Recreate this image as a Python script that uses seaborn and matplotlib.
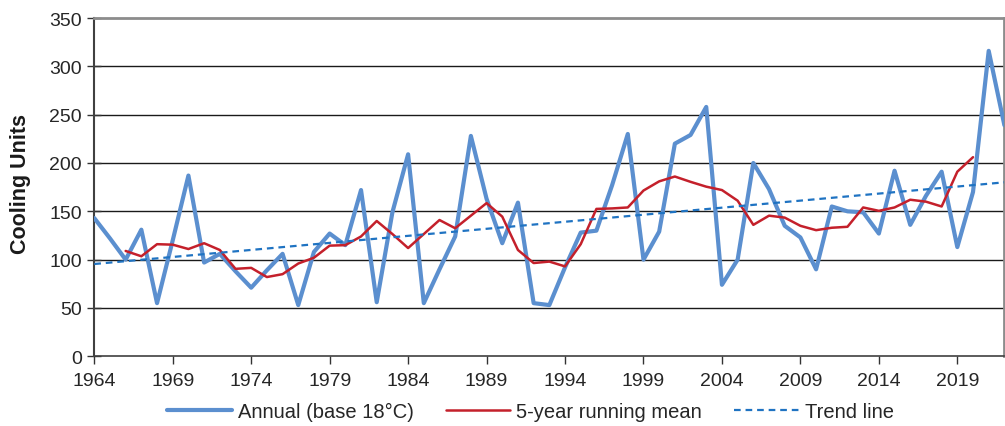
import numpy as np
import pandas as pd
import matplotlib
matplotlib.use("Agg")
import matplotlib.pyplot as plt
import seaborn as sns

# Annual cooling units (base 18°C), 1964-2022
years = list(range(1964, 2023))
annual = [143, 122, 100, 131, 55, 120, 187, 97, 106, 88,
          71, 89, 106, 53, 108, 127, 115, 172, 56, 149,
          209, 55, 90, 124, 228, 163, 117, 159, 55, 53,
          92, 128, 130, 177, 230, 100, 129, 220, 229, 258,
          74, 100, 200, 173, 135, 123, 90, 155, 150, 149,
          127, 192, 136, 166, 191, 113, 170, 316, 239]

# Centred 5-year running mean, 1966-2020
mean_years = list(range(1966, 2021))
running_mean = [109, 103.5, 116, 115.5, 111, 117, 110, 90.5, 91.5, 82,
                85, 96, 102, 114.5, 115, 124, 140, 126.5, 112, 126.5,
                141, 132.5, 145.5, 158.5, 144.5, 110, 96.5, 98, 93, 116,
                152.5, 153, 154, 171.5, 181, 186, 180.5, 175.5, 172, 161,
                136, 145.5, 143.5, 135, 130.5, 133, 134, 154, 150.5, 154,
                162, 160, 155, 191, 206]

# Linear trend end points
trend_years = [1964, 2022]
trend_values = [95.5, 180]

tick_years = list(range(1964, 2020, 5))
y_ticks = list(range(0, 351, 50))

df_annual = pd.DataFrame({"year": years, "value": annual})
df_mean = pd.DataFrame({"year": mean_years, "value": running_mean})
df_trend = pd.DataFrame({"year": trend_years, "value": trend_values})

sns.set_theme(style="white")
plt.rcParams["font.family"] = ["Liberation Sans", "DejaVu Sans"]

fig = plt.figure(figsize=(10.05, 4.27), dpi=100)
ax = fig.add_axes([0.0938, 0.1632, 0.9056, 0.7923])

ax.set_axisbelow(True)
for v in y_ticks[1:-1]:
    ax.axhline(v, color="#1a1a1a", lw=1.0, zorder=0)

sns.lineplot(data=df_annual, x="year", y="value", ax=ax, color="#5b8fcf",
             lw=3.0, label="Annual (base 18°C)", zorder=3)
sns.lineplot(data=df_mean, x="year", y="value", ax=ax, color="#c4202b",
             lw=1.8, label="5-year running mean", zorder=4)
sns.lineplot(data=df_trend, x="year", y="value", ax=ax, color="#1f73c2",
             lw=1.6, linestyle=(0, (3, 2.2)), label="Trend line", zorder=5)

ax.set_xlim(1964, 2022)
ax.set_ylim(0, 350)
ax.set_xticks(tick_years)
ax.set_xticklabels([str(y) for y in tick_years])
ax.set_yticks(y_ticks)
ax.set_xlabel("")
ax.set_ylabel("Cooling Units", fontsize=15.5, fontweight="bold", color="#1a1a1a")
ax.yaxis.set_label_coords(-0.0696, 0.512)

ax.tick_params(axis="x", direction="out", length=6, width=1, color="#333333",
               labelsize=14, labelcolor="#262626", pad=5, bottom=True)
ax.tick_params(axis="y", direction="inout", length=10, width=1, color="#333333",
               labelsize=14, labelcolor="#262626", pad=4, left=True)

for side in ["top", "right"]:
    ax.spines[side].set_color("#8c8c8c")
    ax.spines[side].set_linewidth(2.0)
ax.spines["left"].set_color("#404040")
ax.spines["left"].set_linewidth(1.5)
ax.spines["bottom"].set_color("#404040")
ax.spines["bottom"].set_linewidth(1.2)

ax.legend(loc="center", bbox_to_anchor=(0.528, 0.034), bbox_transform=fig.transFigure,
          ncol=3, frameon=False, fontsize=14.5, handlelength=3.2, handletextpad=0.3,
          columnspacing=1.6, labelcolor="#262626")

fig.savefig("out.png", dpi=100)
